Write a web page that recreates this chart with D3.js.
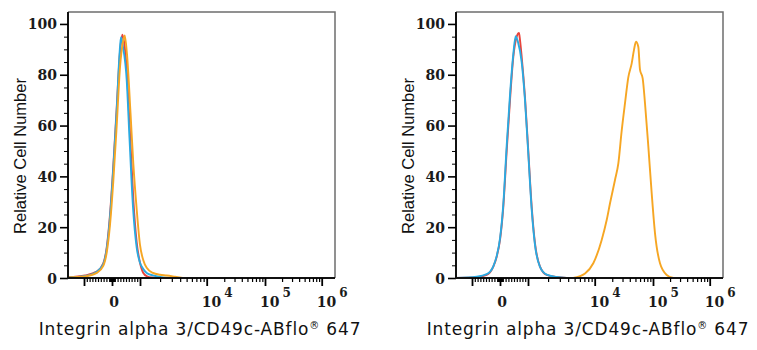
<!DOCTYPE html>
<html>
<head>
<meta charset="utf-8">
<script src="https://cdn.jsdelivr.net/npm/d3@7"></script>
<style>
  body { margin: 0; background: #fff; }
  svg { display: block; }
</style>
</head>
<body>
<div id="chart"></div>
<script>
// ---- data (fluorescence value, relative cell number) ----
const redLeft = [[-3727,0.3],[-964,1],[-546,2.5],[-311,5.8],[-189,12],[-71,25],[46,44],[168,67],[286,89],[368,95.8],[429,93],[525,82],[643,57],[761,31],[882,14],[1000,6],[1121,2],[1273,0.7],[1513,0.2],[2000,0]];
const blueLeft = [[-3727,0.2],[-964,0.8],[-546,2.5],[-311,5.5],[-189,11.5],[-71,24],[46,43],[168,66],[268,88],[321,94.8],[393,91],[525,78],[625,55],[750,28],[882,12],[1000,6],[1121,3.5],[1260,2],[1566,1],[2212,0.2],[2815,0]];
const orangeLeft = [[-3727,0.2],[-964,0.6],[-546,2],[-311,4.8],[-189,10],[-71,21],[46,38],[168,60],[286,83],[393,93],[454,95.5],[536,88],[661,65],[761,45],[882,27],[1000,13],[1121,7],[1260,4],[1566,2],[2000,1.3],[2512,1],[3345,0.5],[4400,0]];

const redRight = [[-3727,0],[-832,0.3],[-475,1.2],[-239,4.5],[-118,8.4],[0,15],[118,28],[239,50],[357,70],[475,87],[596,95],[679,96.5],[700,95],[775,87],[893,71],[1010,50],[1136,28],[1273,13.6],[1513,4.5],[1907,1.2],[2692,0.4],[3803,0]];
const blueRight = [[-3727,0],[-832,0.5],[-475,1.5],[-239,4.6],[-118,8.6],[0,15.5],[118,29],[239,52],[357,72],[475,88],[560,95.2],[640,93],[775,85],[893,70],[1010,49],[1136,27],[1273,13],[1513,4.4],[1907,1.3],[2692,0.4],[3803,0]];
const orangeRight = [[4773,0],[7165,1.8],[9529,5.8],[13180,15],[16060,22.8],[18310,29.4],[22290,38.6],[25400,45],[29050,58],[33090,68.8],[37700,79],[43130,84.5],[47200,89.8],[51100,93],[55950,91],[59800,82],[66500,78.6],[72900,68.8],[83200,51.7],[95000,33.3],[108500,17.6],[132900,5.8],[174500,1.2],[228000,0]];

const yMajorTicks = [0, 20, 40, 60, 80, 100];
const yMinorTicks = d3.range(0, 105, 5).filter(d => d % 20 !== 0);
const xMajorTicks = [-1000, 0, 1000, 1e4, 1e5, 1e6];
const xMinorTicks = [-900,-800,-700,-600,-500,-400,-300,-200,-100,-80,-60,-40,-20,20,40,60,80,
  100,200,300,400,500,600,700,800,900,
  2000,3000,4000,5000,6000,7000,8000,9000,
  20000,30000,40000,50000,60000,70000,80000,90000,
  200000,300000,400000,500000,600000,700000,800000,900000];
const xLabels = [{v: 0, base: "0", sup: ""}, {v: 1e4, base: "10", sup: "4"}, {v: 1e5, base: "10", sup: "5"}, {v: 1e6, base: "10", sup: "6"}];
const xTitle = "Integrin alpha 3/CD49c-ABflo";
const yTitle = "Relative Cell Number";

const panels = [
  {left: 68, series: [{d: redLeft, c: "#e8443c"}, {d: blueLeft, c: "#2aaae2"}, {d: orangeLeft, c: "#f6a623"}]},
  {left: 456, series: [{d: redRight, c: "#e8443c"}, {d: blueRight, c: "#2aaae2"}, {d: orangeRight, c: "#f6a623"}]}
];

const width = 757, height = 350;
const marginTop = 12, plotW = 267, plotH = 266;

const svg = d3.select("#chart").append("svg")
  .attr("width", width).attr("height", height);

// biexponential-like display transform: linear within +-1000, log outside
function g(v) {
  if (Math.abs(v) <= 1000) return v / 1000;
  return Math.sign(v) * (1 + Math.log10(Math.abs(v) / 1000));
}

const gScale = d3.scaleLinear()
  .domain([-1, 0, 1, 2, 3, 4])
  .range([16, 44, 72, 138.7, 197, 253.7]);
const x = v => gScale(g(v));

const y = d3.scaleLinear().domain([0, 104.7]).range([plotH, 0]);

panels.forEach(p => {
  const chart = svg.append("g").attr("transform", `translate(${p.left},${marginTop})`);

  // frame (top and right)
  chart.append("path")
    .attr("d", `M0,0H${plotW}V${plotH}`)
    .attr("fill", "none").attr("stroke", "#6e6e6e").attr("stroke-width", 1.5);

  // curves
  const line = d3.line()
    .x(d => x(d[0]))
    .y(d => y(d[1]))
    .curve(d3.curveMonotoneX);

  p.series.forEach(s => {
    chart.append("path")
      .datum(s.d)
      .attr("d", line)
      .attr("fill", "none")
      .attr("stroke", s.c)
      .attr("stroke-width", 1.9)
      .attr("stroke-linejoin", "round");
  });

  // y axis
  const yAxisG = chart.append("g")
    .call(d3.axisLeft(y).tickValues(yMajorTicks).tickSize(8).tickPadding(3).tickFormat(d3.format("d")));
  chart.append("g")
    .call(d3.axisLeft(y).tickValues(yMinorTicks).tickSize(4).tickFormat(""))
    .call(a => a.select(".domain").remove());
  yAxisG.select(".domain").attr("stroke", "#111").attr("stroke-width", 2)
    .attr("d", `M0,${plotH + 1}V0`);
  yAxisG.selectAll(".tick line").attr("stroke-width", 1.6);
  yAxisG.selectAll(".tick text")
    .attr("font-family", "DejaVu Serif").attr("font-weight", "bold")
    .attr("font-size", 14).attr("fill", "#1a1a1a")
    .attr("dy", "0.36em");

  // x axis
  const xAxisG = chart.append("g")
    .attr("transform", `translate(0,${plotH})`)
    .call(d3.axisBottom(gScale).tickValues(xMajorTicks.map(g)).tickSize(8).tickFormat(""));
  chart.append("g")
    .attr("transform", `translate(0,${plotH})`)
    .call(d3.axisBottom(gScale).tickValues(xMinorTicks.map(g)).tickSize(4).tickFormat(""))
    .call(a => a.select(".domain").remove())
    .selectAll(".tick line").attr("stroke-width", 1.2);
  xAxisG.select(".domain").attr("stroke", "#111").attr("stroke-width", 2)
    .attr("d", `M-1,0H${plotW}`);
  xAxisG.selectAll(".tick line").attr("stroke-width", 1.8);

  // x tick labels
  xLabels.forEach(l => {
    const t = chart.append("text")
      .attr("y", plotH + 29)
      .attr("font-family", "DejaVu Serif").attr("font-weight", "bold")
      .attr("font-size", 14).attr("fill", "#1a1a1a");
    if (l.sup === "") {
      t.attr("x", x(l.v) + 2).attr("text-anchor", "middle").text(l.base);
    } else {
      t.attr("x", x(l.v) - 5).attr("text-anchor", "start");
      t.append("tspan").text(l.base);
      t.append("tspan").attr("dx", 3).attr("dy", -10).attr("font-size", 12).text(l.sup);
    }
  });

  // axis titles
  chart.append("text")
    .attr("transform", `translate(-48,${plotH / 2 + 11}) rotate(-90)`)
    .attr("text-anchor", "middle")
    .attr("dy", "0.35em")
    .attr("font-family", "Liberation Sans").attr("font-size", 16.5).attr("fill", "#111")
    .text(yTitle);

  const xt = chart.append("text")
    .attr("x", 132).attr("y", plotH + 57)
    .attr("text-anchor", "middle")
    .attr("font-family", "DejaVu Sans").attr("font-size", 17)
    .attr("letter-spacing", 0.85).attr("fill", "#111");
  xt.append("tspan").text(xTitle);
  xt.append("tspan").attr("dy", -6).attr("font-size", 10).text("®");
  xt.append("tspan").attr("dy", 6).text(" 647");
});
</script>
</body>
</html>
